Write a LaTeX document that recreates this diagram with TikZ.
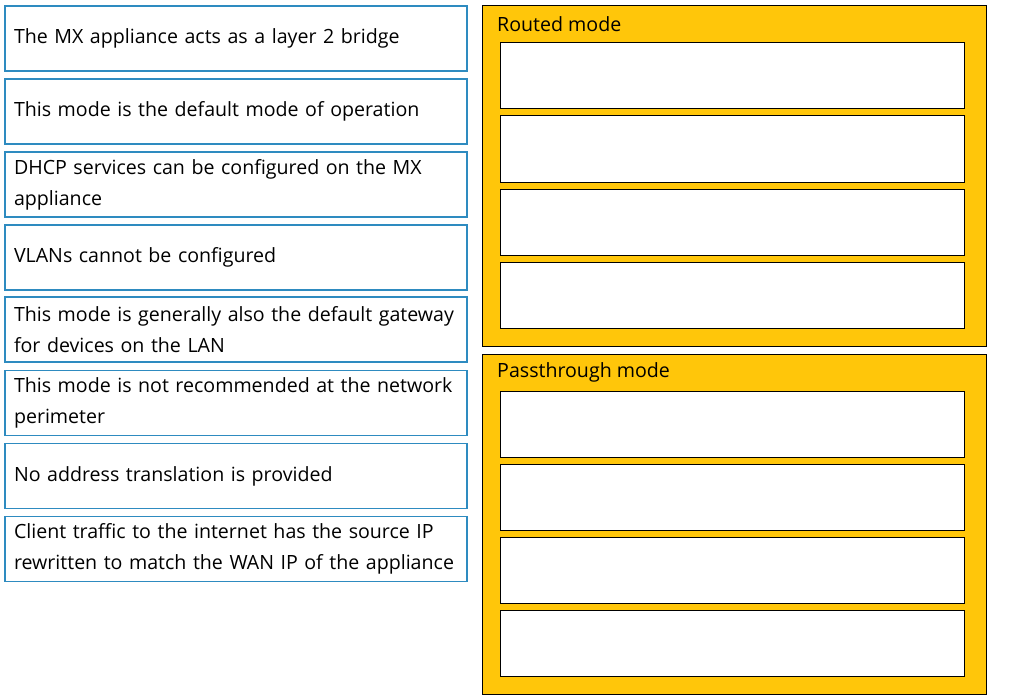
\documentclass[tikz,border=0pt]{standalone}
\usepackage{fontspec}
\setmainfont{Open Sans}
\definecolor{itemblue}{RGB}{46,139,192}
\definecolor{modeyellow}{RGB}{255,198,10}
\newcommand{\itemfont}{\fontsize{19.6}{31}\selectfont\hyphenpenalty=10000 \exhyphenpenalty=10000 }
\begin{document}
\begin{tikzpicture}[x=1pt, y=-1pt,
  item/.style={draw=itemblue, line width=1.2pt, minimum width=462pt, minimum height=65pt,
    text width=444pt, align=left, inner xsep=9pt, font=\itemfont},
  panel/.style={draw=black, fill=modeyellow, line width=1pt, minimum width=504pt, minimum height=340pt},
  slot/.style={draw=black, fill=white, line width=1pt, minimum width=464pt, minimum height=66pt},
  title/.style={anchor=west, inner sep=0pt, font=\fontsize{19.6}{23}\selectfont}]
  \useasboundingbox (0, 0) rectangle (1014, 698);
  \node[item] (layer) at (236, 38.5) {The MX appliance acts as a layer 2 bridge};
  \node[item] (default) at (236, 111.5) {This mode is the default mode of operation};
  \node[item] (dhcp) at (236, 184.5) {DHCP services can be configured on the MX appliance};
  \node[item] (vlans) at (236, 257.5) {VLANs cannot be configured};
  \node[item] (gateway) at (236, 329.5) {This mode is generally also the default gateway for devices on the LAN};
  \node[item] (perimeter) at (236, 403) {This mode is not recommended at the network perimeter};
  \node[item] (noxlate) at (236, 476) {No address translation is provided};
  \node[item] (rewrite) at (236, 549) {Client traffic to the internet has the source IP rewritten to match the WAN IP of the appliance};
  \node[panel] (routed) at (734, 176) {};
  \node[title] at (497, 24) {Routed mode};
  \node[slot] (routed1) at (732, 76) {};
  \node[slot] (routed2) at (732, 149) {};
  \node[slot] (routed3) at (732, 222) {};
  \node[slot] (routed4) at (732, 295) {};
  \node[panel] (pass) at (734, 524) {};
  \node[title] at (497, 372) {Passthrough mode};
  \node[slot] (pass1) at (732, 424) {};
  \node[slot] (pass2) at (732, 497) {};
  \node[slot] (pass3) at (732, 570) {};
  \node[slot] (pass4) at (732, 643) {};
\end{tikzpicture}
\end{document}
